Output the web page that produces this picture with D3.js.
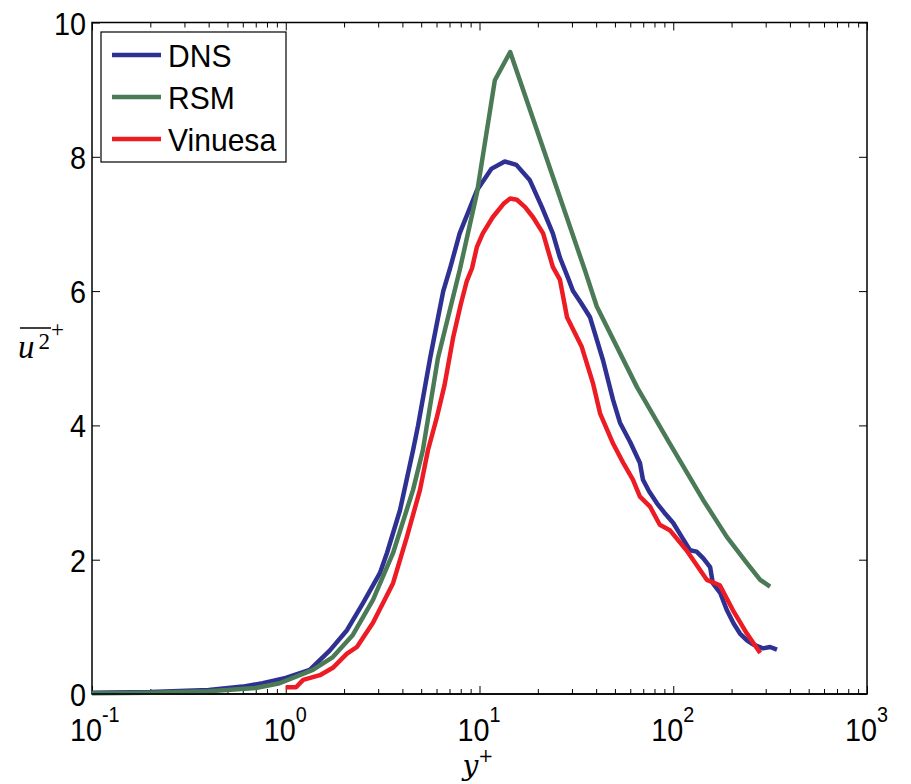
<!DOCTYPE html>
<html><head><meta charset="utf-8">
<script src="https://cdn.jsdelivr.net/npm/d3@7"></script>
<style>body{margin:0;background:#fff;} svg{display:block;}</style>
</head><body>
<svg id="chart" width="911" height="784"></svg>
<script>
// ---- data ----
const dnsX = [0.1,0.2,0.4,0.6,0.76,1.0,1.33,1.69,2.07,2.5,3.06,3.33,3.89,4.54,4.82,5.56,6.2,6.5,7.05,7.9,9.7,11.5,13.5,15.5,18.2,21,23.9,26,28.6,30.4,33.5,37.2,43.4,48.9,53.1,60,67.3,69.8,75,82.4,90,99.8,110,122,132,143,155,160,175,189,205,221,240,258,290,316,343];
const dnsY = [0.02,0.03,0.06,0.11,0.16,0.24,0.36,0.65,0.95,1.35,1.8,2.1,2.74,3.63,4.0,5.0,5.7,6.0,6.34,6.86,7.5,7.82,7.93,7.88,7.65,7.25,6.86,6.5,6.2,6.0,5.82,5.61,4.97,4.38,4.04,3.75,3.44,3.19,3.02,2.84,2.7,2.55,2.35,2.14,2.12,2.02,1.89,1.65,1.5,1.25,1.05,0.9,0.8,0.74,0.68,0.70,0.66];
const rsmX = [0.1,0.2,0.4,0.7,0.93,1.38,1.75,2.22,2.82,3.58,4.54,5.1,6.1,7.9,9.7,12.0,14.4,35,40.3,65,96,142.6,189,240,281,316];
const rsmY = [0.01,0.02,0.04,0.09,0.16,0.36,0.55,0.88,1.4,2.1,3.04,3.63,5.0,6.31,7.46,9.14,9.56,6.31,5.77,4.57,3.73,2.89,2.34,1.95,1.70,1.60];
const vinX = [1.0,1.13,1.23,1.5,1.75,2.07,2.33,2.82,3.58,4.22,4.93,5.42,6.0,6.6,7.3,8.0,8.6,9.15,9.7,10.4,11.7,13.3,14.4,15.6,17.2,18.9,21.3,23.9,26,28.3,33.7,38.5,41.9,48.9,55,62,67.3,75.9,85.2,96,117,149,174,203,240,281];
const vinY = [0.1,0.1,0.21,0.28,0.39,0.6,0.7,1.06,1.65,2.34,3.04,3.63,4.1,4.6,5.3,5.8,6.15,6.34,6.66,6.86,7.1,7.3,7.38,7.36,7.25,7.1,6.86,6.36,6.17,5.61,5.17,4.63,4.18,3.73,3.45,3.19,2.94,2.79,2.52,2.44,2.14,1.70,1.62,1.25,0.9,0.61];
const seriesNames = ["DNS","RSM","Vinuesa"];
const seriesColors = ["#2e3192","#4a7a56","#ed1c24"];
const xMajorTicks = [0.1,1,10,100,1000];
const xTickExps = ["-1","0","1","2","3"];
const yTicks = [0,2,4,6,8,10];

// ---- layout ----
const svg = d3.select("#chart");
const L=92, R=867, T=22.5, B=694;
const x = d3.scaleLog().domain([0.1,1000]).range([L,R]);
const y = d3.scaleLinear().domain([0,10]).range([B,T]);
const font = "'Liberation Sans', Arial, Helvetica, sans-serif";

const minor = [];
for (let e=-1;e<3;e++) for (let k=2;k<=9;k++) minor.push(k*Math.pow(10,e));

function axisGroup(axis, tx, ty){
  const g = svg.append("g").attr("transform",`translate(${tx},${ty})`).call(axis);
  g.select(".domain").remove();
  g.selectAll("line").attr("stroke","#000").attr("stroke-width",1);
  return g;
}
axisGroup(d3.axisBottom(x).tickValues(xMajorTicks).tickSize(-8).tickFormat(""),0,B);
axisGroup(d3.axisBottom(x).tickValues(minor).tickSize(-5).tickFormat(""),0,B);
axisGroup(d3.axisTop(x).tickValues(xMajorTicks).tickSize(-8).tickFormat(""),0,T);
axisGroup(d3.axisTop(x).tickValues(minor).tickSize(-5).tickFormat(""),0,T);
axisGroup(d3.axisLeft(y).tickValues(yTicks).tickSize(-8).tickFormat(""),L,0);
axisGroup(d3.axisRight(y).tickValues(yTicks).tickSize(-8).tickFormat(""),R,0);

svg.append("rect").attr("x",L).attr("y",T).attr("width",R-L).attr("height",B-T)
  .attr("fill","none").attr("stroke","#000").attr("stroke-width",1.5);

const lineGen = d3.line().x(d=>x(d[0])).y(d=>y(d[1]));
const allSeries = [d3.zip(dnsX,dnsY), d3.zip(rsmX,rsmY), d3.zip(vinX,vinY)];
allSeries.forEach((s,i)=>{
  svg.append("path").datum(s).attr("d",lineGen)
    .attr("fill","none").attr("stroke",seriesColors[i]).attr("stroke-width",4.5)
    .attr("stroke-linejoin","round");
});
svg.append("line").attr("x1",L).attr("x2",R).attr("y1",B).attr("y2",B).attr("stroke","#000").attr("stroke-width",1.5);

// y tick labels
yTicks.forEach(v=>{
  svg.append("text").attr("transform",`translate(${L-6},${y(v)+12}) scale(0.9,1)`)
    .attr("text-anchor","end").attr("font-family",font).attr("font-size",32).text(v);
});
// x tick labels
xMajorTicks.forEach((v,i)=>{
  const t = svg.append("text").attr("transform",`translate(${x(v)-22},741) scale(0.9,1)`)
    .attr("font-family",font).attr("font-size",32);
  t.append("tspan").text("10");
  t.append("tspan").attr("dy",-19).attr("font-size",22).text(xTickExps[i]);
});

// axis titles
const xt = svg.append("text").attr("x",478).attr("y",775).attr("font-family","'DejaVu Serif','Liberation Serif',serif")
  .attr("font-size",28).attr("font-style","italic").attr("text-anchor","middle");
xt.append("tspan").text("y");
xt.append("tspan").attr("dy",-13).attr("font-size",18).attr("font-style","normal").text("+");

const yt = svg.append("text").attr("x",18).attr("y",358).attr("font-family","'Liberation Serif','DejaVu Serif',serif").attr("font-size",33);
yt.append("tspan").attr("font-style","italic").text("u");
yt.append("tspan").attr("dx",4).attr("dy",-9).attr("font-size",23).text("2");
yt.append("tspan").attr("dx",1).attr("dy",-12).attr("font-size",23).text("+");
svg.append("line").attr("x1",20).attr("x2",51).attr("y1",328).attr("y2",328).attr("stroke","#000").attr("stroke-width",1.5);

// legend
const lg = svg.append("g");
lg.append("rect").attr("x",101).attr("y",32).attr("width",185).attr("height",130)
  .attr("fill","#fff").attr("stroke","#000").attr("stroke-width",1.2);
seriesNames.forEach((n,i)=>{
  const cy = 55 + i*42;
  lg.append("line").attr("x1",112).attr("x2",161).attr("y1",cy).attr("y2",cy)
    .attr("stroke",seriesColors[i]).attr("stroke-width",4.5);
  lg.append("text").attr("transform",`translate(168,${cy+12}) scale(0.94,1)`)
    .attr("font-family",font).attr("font-size",32).text(n);
});
</script>
</body></html>
